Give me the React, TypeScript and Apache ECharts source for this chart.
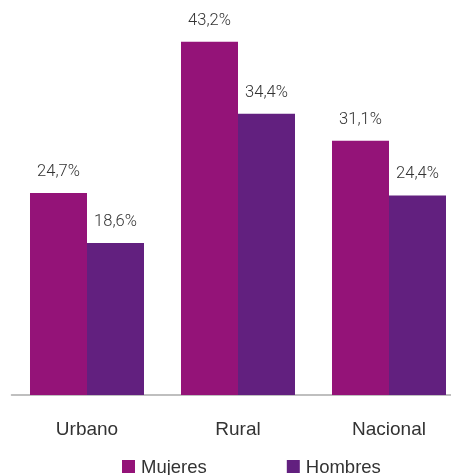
import React, { useEffect, useRef } from "react";
import * as echarts from "echarts";

const categories = ["Urbano", "Rural", "Nacional"];
const mujeres = [24.7, 43.2, 31.1];
const hombres = [18.6, 34.4, 24.4];
const seriesNames = ["Mujeres", "Hombres"];

const fmt = (v: number) => v.toFixed(1).replace(".", ",") + "%";

export default function App() {
  const ref = useRef<HTMLDivElement>(null);
  useEffect(() => {
    if (!ref.current) return;
    const chart = echarts.init(ref.current, undefined, { renderer: "svg" });
    const labelCfg = {
      show: true,
      position: "top" as const,
      distance: 14,
      color: "#333",
      fontFamily: "Roboto, Liberation Sans, sans-serif",
      fontWeight: 300,
      fontSize: 16.5,
      formatter: (p: any) => fmt(p.value),
    };
    chart.setOption({
      animation: false,
      grid: { left: 11.5, right: 0.5, top: 27, bottom: 80 },
      legend: {
        left: 117,
        top: 452,
        itemWidth: 13,
        itemHeight: 13,
        itemGap: 80,
        icon: "rect",
        textStyle: {
          fontFamily: "Liberation Sans, sans-serif",
          fontSize: 18.5,
          color: "#333",
          padding: [0, 0, 0, 1],
        },
        data: seriesNames,
      },
      xAxis: {
        type: "category",
        data: categories,
        axisLine: { lineStyle: { color: "#aaaaaa", width: 1.5 } },
        axisTick: { show: false },
        axisLabel: {
          margin: 24,
          color: "#333",
          fontFamily: "Liberation Sans, sans-serif",
          fontSize: 19,
        },
      },
      yAxis: {
        type: "value",
        min: 0,
        max: 45,
        show: false,
        splitLine: { show: false },
      },
      series: [
        {
          name: seriesNames[0],
          type: "bar",
          data: mujeres,
          barGap: "0%",
          barCategoryGap: "24.5%",
          itemStyle: { color: "#941378" },
          label: labelCfg,
        },
        {
          name: seriesNames[1],
          type: "bar",
          data: hombres,
          itemStyle: { color: "#62207F" },
          label: labelCfg,
        },
      ],
    });
    return () => chart.dispose();
  }, []);
  return (
    <div
      ref={ref}
      style={{ position: "fixed", left: 0, top: 0, width: 465, height: 475 }}
    />
  );
}
